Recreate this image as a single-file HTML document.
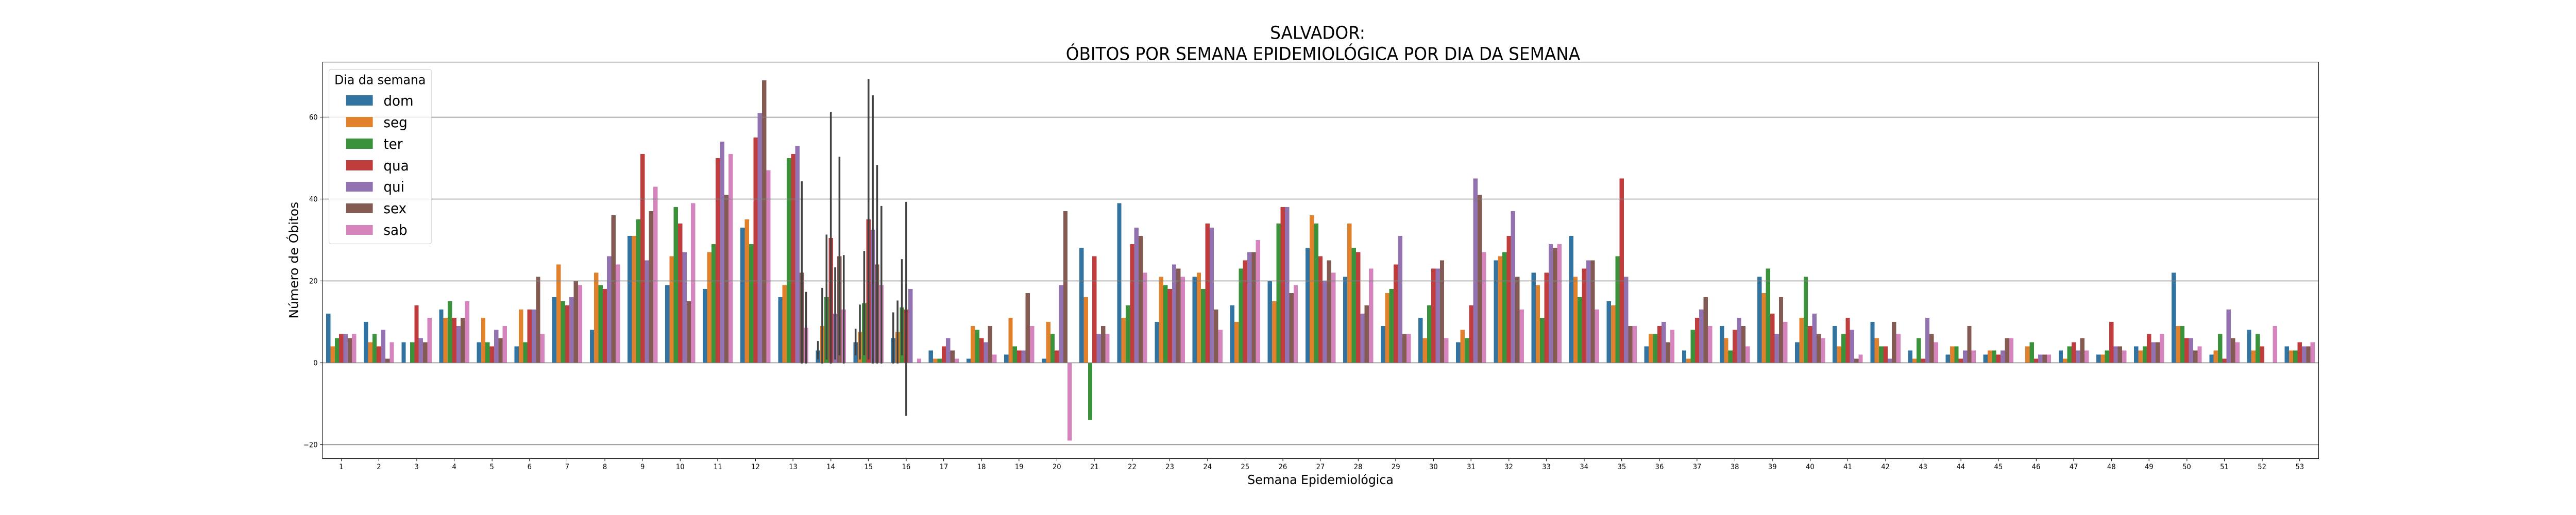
<!DOCTYPE html>
<html lang="pt">
<head>
<meta charset="utf-8">
<title>Salvador: Óbitos por semana epidemiológica</title>
<style>
html,body{margin:0;padding:0;background:#fff;width:100%;height:100%;overflow:hidden}
svg{display:block;width:100vw;height:100vh;font-family:"DejaVu Sans","Liberation Sans",sans-serif}
</style>
</head>
<body>
<svg id="chart" xmlns="http://www.w3.org/2000/svg" viewBox="0 0 5300 1000" preserveAspectRatio="none">
  <rect x="0" y="0" width="5300" height="1000" fill="#ffffff"/>
  <text x="2711" y="75.4" font-size="34.7" text-anchor="middle" fill="#000">SALVADOR:</text>
  <text x="2722" y="116.5" font-size="34.7" text-anchor="middle" fill="#000">ÓBITOS POR SEMANA EPIDEMIOLÓGICA POR DIA DA SEMANA</text>
  <g id="bars"></g>
  <g id="grid"></g>
  <g id="errors"></g>
  <rect x="663.5" y="120.5" width="4107" height="770" fill="none" stroke="#000" stroke-width="1.11"/>
  <g id="xticks"></g>
  <g id="yticks"></g>
  <text x="2716.8" y="940" font-size="25" text-anchor="middle" fill="#000">Semana Epidemiológica</text>
  <text transform="translate(613 505.3) rotate(-90)" font-size="25" text-anchor="middle" fill="#000">Número de Óbitos</text>
  <g>
    <rect x="676.9" y="134.5" width="210.4" height="339" rx="4" ry="4" fill="#ffffff" fill-opacity="0.8" stroke="#cccccc" stroke-width="1.11"/>
    <text x="782" y="163.3" font-size="25" text-anchor="middle" fill="#000">Dia da semana</text>
    <g><rect x="712" y="185" width="55" height="20" fill="#3274a1"/><text x="789" y="205" font-size="27.8">dom</text></g>
    <g><rect x="712" y="227" width="55" height="20" fill="#e1812c"/><text x="789" y="247" font-size="27.8">seg</text></g>
    <g><rect x="712" y="269" width="55" height="20" fill="#3a923a"/><text x="789" y="289" font-size="27.8">ter</text></g>
    <g><rect x="712" y="311" width="55" height="20" fill="#c03d3e"/><text x="789" y="331" font-size="27.8">qua</text></g>
    <g><rect x="712" y="353" width="55" height="19" fill="#9372b2"/><text x="789" y="372" font-size="27.8">qui</text></g>
    <g><rect x="712" y="395" width="55" height="19" fill="#845b53"/><text x="789" y="414" font-size="27.8">sex</text></g>
    <g><rect x="712" y="437" width="55" height="19" fill="#d684bd"/><text x="789" y="456" font-size="27.8">sab</text></g>
  </g>
</svg>
<script>
const weeks = [1,2,3,4,5,6,7,8,9,10,11,12,13,14,15,16,17,18,19,20,21,22,23,24,25,26,27,28,29,30,31,32,33,34,35,36,37,38,39,40,41,42,43,44,45,46,47,48,49,50,51,52,53];
const dom = [12,10,5,13,5,4,16,8,31,19,18,33,16,3,5,6,3,1,2,1,28,39,10,21,14,20,28,21,9,11,5,25,22,31,15,4,3,9,21,5,9,10,3,2,2,null,3,2,4,22,2,8,4];
const seg = [4,5,null,11,11,13,24,22,31,26,27,35,19,9,7.5,7.5,1,9,11,10,16,11,21,22,10,15,36,34,17,6,8,26,19,21,14,7,1,6,17,11,4,6,1,4,3,4,1,2,3,9,3,3,3];
const ter = [6,7,5,15,5,5,15,19,35,38,29,29,50,16,14.5,13.5,1,8,4,7,-14,14,19,18,23,34,34,28,18,14,6,27,11,16,26,7,8,3,23,21,7,4,6,4,3,5,4,3,4,9,7,7,3];
const qua = [7,4,14,11,4,13,14,18,51,34,50,55,51,30.5,35,13,4,6,3,3,26,29,18,34,25,38,26,27,24,23,14,31,22,23,45,9,11,8,12,9,11,4,1,1,2,1,5,10,7,6,1,4,5];
const qui = [7,8,6,9,8,13,16,26,25,27,54,61,53,12,32.5,18,6,5,3,19,7,33,24,33,27,38,20,12,31,23,45,37,29,25,21,10,13,11,7,12,8,1,11,3,3,2,3,4,5,6,13,null,4];
const sex = [6,1,5,11,6,21,20,36,37,15,41,69,22,26,24,null,3,9,17,37,9,31,23,13,27,17,25,14,7,25,41,21,28,25,9,5,16,9,16,7,1,10,7,9,6,2,6,4,5,3,6,null,4];
const sab = [7,5,11,15,9,7,19,24,43,39,51,47,8.5,13,19,1,1,2,9,-19,7,22,21,8,30,19,22,23,7,6,27,13,29,13,9,8,9,4,10,6,2,7,5,3,6,2,3,3,7,4,5,9,5];

const dayNames = ['dom','seg','ter','qua','qui','sex','sab'];
const daySeries = [dom,seg,ter,qua,qui,sex,sab];
const dayColors = ['#3274a1','#e1812c','#3a923a','#c03d3e','#9372b2','#845b53','#d684bd'];

const ciWeeks = [13,13,14,14,14,14,14,14,14,15,15,15,15,15,15,15,16,16,16,16];
const ciDays = ['sex','sab','dom','seg','ter','qua','qui','sex','sab','dom','seg','ter','qua','qui','sex','sab','dom','seg','ter','qua'];
const ciLow = [-0.2,-0.2,0.8,-0.2,0.8,-0.2,0.8,1.8,-0.2,1.8,0.8,1.8,0.8,-0.2,-0.2,-0.2,-0.2,-0.2,1.8,-13];
const ciHigh = [44.3,17.3,5.3,18.3,31.3,61.3,23.3,50.3,26.3,8.3,14.2,27.3,69.3,65.3,48.3,38.3,12.3,15.2,25.3,39.3];

const yTicks = [-20,0,20,40,60];

const NS = 'http://www.w3.org/2000/svg';
const plotLeft = 663.3;
const plotRight = 4770.3;
const zeroY = 704.3;
const unitY = 7.95;
const bandWidth = (plotRight - plotLeft) / weeks.length;
const barWidth = bandWidth * 0.8 / dayNames.length;

function xScale(i) { return plotLeft + bandWidth * (i + 0.5); }
function yScale(v) { return zeroY - unitY * v; }
function barCenter(i, d) { return xScale(i) + (d - (dayNames.length - 1) / 2) * barWidth; }
function make(tag, attrs) {
  const el = document.createElementNS(NS, tag);
  Object.keys(attrs).forEach(function (k) { el.setAttribute(k, attrs[k]); });
  return el;
}

const barsLayer = document.getElementById('bars');
daySeries.forEach(function (series, d) {
  series.forEach(function (v, i) {
    if (v === null) return;
    const top = Math.min(yScale(v), yScale(0));
    const rect = make('rect', {
      x: barCenter(i, d) - barWidth / 2,
      y: top,
      width: barWidth,
      height: Math.abs(yScale(v) - yScale(0)),
      fill: dayColors[d],
      'shape-rendering': 'crispEdges'
    });
    
    
    barsLayer.appendChild(rect);
  });
});

const gridLayer = document.getElementById('grid');
const yTickLayer = document.getElementById('yticks');
yTicks.forEach(function (t) {
  const y = Math.floor(yScale(t)) + 0.5;
  const line = make('line', { x1: plotLeft, x2: plotRight, y1: y, y2: y, stroke: '#808080', 'stroke-width': 1.39 });
  
  
  gridLayer.appendChild(line);
  const tick = make('line', { x1: plotLeft - 4.86, x2: plotLeft, y1: y, y2: y, stroke: '#000', 'stroke-width': 1.11 });
  
  
  yTickLayer.appendChild(tick);
  const label = make('text', { x: plotLeft - 9.7, y: y + 5, 'font-size': 13.9, 'text-anchor': 'end', fill: '#000' });
  
  
  label.textContent = (t < 0 ? '\u2212' + Math.abs(t) : String(t));
  yTickLayer.appendChild(label);
});

const errorLayer = document.getElementById('errors');
ciWeeks.forEach(function (w, k) {
  const i = weeks.indexOf(w);
  const d = dayNames.indexOf(ciDays[k]);
  const cx = barCenter(i, d);
  const err = make('line', { x1: cx, x2: cx, y1: yScale(ciLow[k]), y2: yScale(ciHigh[k]), stroke: '#424242', 'stroke-width': 3.75 });
  
  
  errorLayer.appendChild(err);
});

const xTickLayer = document.getElementById('xticks');
weeks.forEach(function (w, i) {
  const x = Math.floor(xScale(i)) + 0.5;
  const tick = make('line', { x1: x, x2: x, y1: 890.5, y2: 895.4, stroke: '#000', 'stroke-width': 1.11 });
  
  
  xTickLayer.appendChild(tick);
  const label = make('text', { x: xScale(i), y: 911, 'font-size': 13.9, 'text-anchor': 'middle', fill: '#000' });
  
  
  label.textContent = String(w);
  xTickLayer.appendChild(label);
});
</script>
</body>
</html>
